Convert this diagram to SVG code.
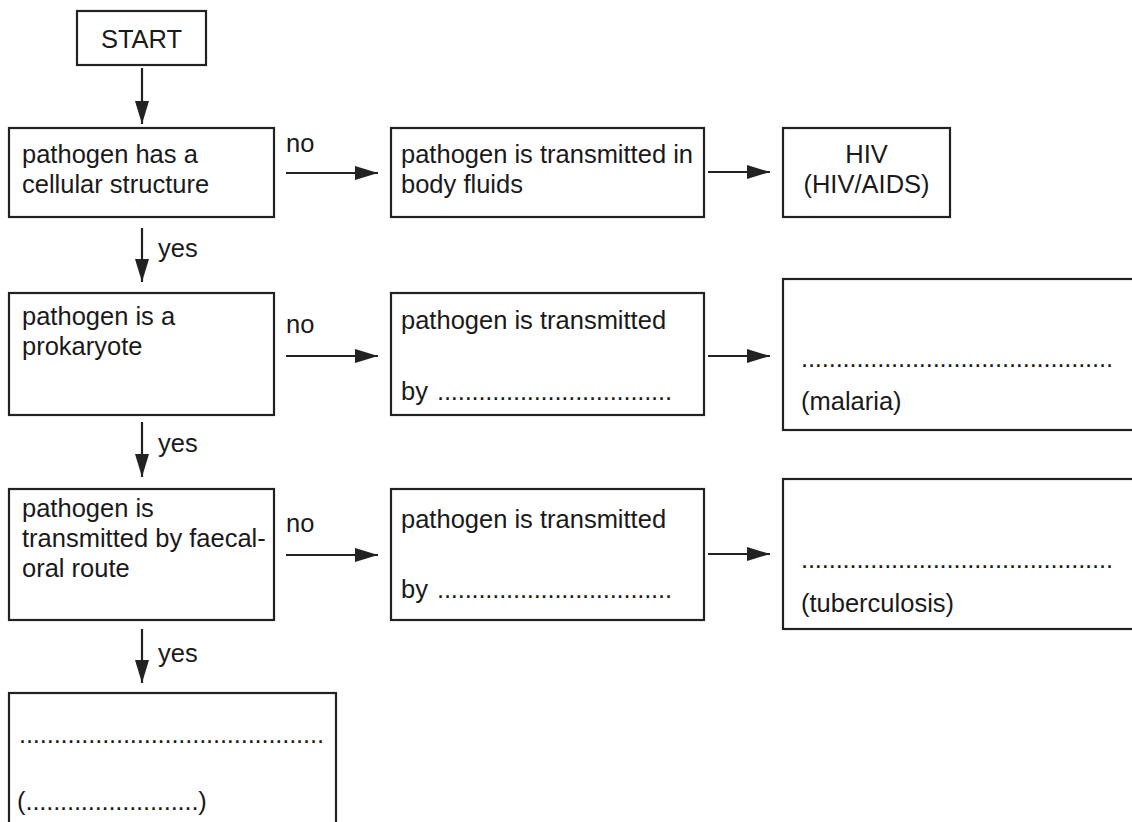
<svg xmlns="http://www.w3.org/2000/svg" width="1132" height="822" viewBox="0 0 1132 822">
<style>
.box{fill:#fff;stroke:#222;stroke-width:2.2}
text{font-family:"Liberation Sans",Arial,sans-serif;font-size:25.5px;fill:#1a1a1a}
.c{text-anchor:middle}
.ln{stroke:#222;stroke-width:2.2;fill:none}
</style>
<defs>
<marker id="ah" markerUnits="userSpaceOnUse" markerWidth="24" markerHeight="16" refX="23" refY="8" orient="auto">
<path d="M0,1 L23,8 L0,15 Z" fill="#222"/>
</marker>
</defs>
<rect width="1132" height="822" fill="#fff"/>
<g id="connectors">
<line class="ln" x1="142" y1="68" x2="142" y2="124" marker-end="url(#ah)"/>
<line class="ln" x1="142" y1="228" x2="142" y2="282" marker-end="url(#ah)"/>
<line class="ln" x1="142" y1="422" x2="142" y2="477" marker-end="url(#ah)"/>
<line class="ln" x1="142" y1="629" x2="142" y2="683" marker-end="url(#ah)"/>
<line class="ln" x1="286" y1="173" x2="378" y2="173" marker-end="url(#ah)"/>
<line class="ln" x1="286" y1="356" x2="378" y2="356" marker-end="url(#ah)"/>
<line class="ln" x1="286" y1="555" x2="378" y2="555" marker-end="url(#ah)"/>
<line class="ln" x1="708" y1="172" x2="770" y2="172" marker-end="url(#ah)"/>
<line class="ln" x1="708" y1="356" x2="770" y2="356" marker-end="url(#ah)"/>
<line class="ln" x1="708" y1="554" x2="770" y2="554" marker-end="url(#ah)"/>
<text x="158" y="257">yes</text>
<text x="158" y="452">yes</text>
<text x="158" y="662">yes</text>
<text x="286" y="152">no</text>
<text x="286" y="333">no</text>
<text x="286" y="532">no</text>
</g>
<g id="start">
<rect class="box" x="77" y="11" width="129" height="54"/>
<text class="c" x="141.5" y="48">START</text>
</g>
<g id="cellular">
<rect class="box" x="9" y="128" width="265" height="89"/>
<text x="22" y="163">pathogen has a</text>
<text x="22" y="193">cellular structure</text>
</g>
<g id="bodyfluids">
<rect class="box" x="391" y="128" width="313" height="89"/>
<text x="401" y="163">pathogen is transmitted in</text>
<text x="401" y="193">body fluids</text>
</g>
<g id="hiv">
<rect class="box" x="783" y="128" width="167" height="89"/>
<text class="c" x="866.5" y="163">HIV</text>
<text class="c" x="866.5" y="193">(HIV/AIDS)</text>
</g>
<g id="prokaryote">
<rect class="box" x="9" y="293" width="265" height="122"/>
<text x="22" y="325">pathogen is a</text>
<text x="22" y="355">prokaryote</text>
</g>
<g id="transmitted1">
<rect class="box" x="391" y="293" width="313" height="122"/>
<text x="401" y="329">pathogen is transmitted</text>
<text x="401" y="400">by <tspan x="437" textLength="235" lengthAdjust="spacing">..................................</tspan></text>
</g>
<g id="malaria">
<rect class="box" x="783" y="279" width="360" height="151"/>
<text x="801" y="367" textLength="312" lengthAdjust="spacing">.............................................</text>
<text x="801" y="410">(malaria)</text>
</g>
<g id="faecal">
<rect class="box" x="9" y="489" width="265" height="131"/>
<text x="22" y="517">pathogen is</text>
<text x="22" y="547">transmitted by faecal-</text>
<text x="22" y="577">oral route</text>
</g>
<g id="transmitted2">
<rect class="box" x="391" y="489" width="313" height="131"/>
<text x="401" y="528">pathogen is transmitted</text>
<text x="401" y="598">by <tspan x="437" textLength="235" lengthAdjust="spacing">..................................</tspan></text>
</g>
<g id="tuberculosis">
<rect class="box" x="783" y="479" width="360" height="150"/>
<text x="801" y="568" textLength="312" lengthAdjust="spacing">.............................................</text>
<text x="801" y="612">(tuberculosis)</text>
</g>
<g id="final">
<rect class="box" x="9" y="693" width="327" height="140"/>
<text x="19" y="743" textLength="305" lengthAdjust="spacing">............................................</text>
<text x="17" y="810">(<tspan textLength="173" lengthAdjust="spacing">.........................</tspan>)</text>
</g>
</svg>
